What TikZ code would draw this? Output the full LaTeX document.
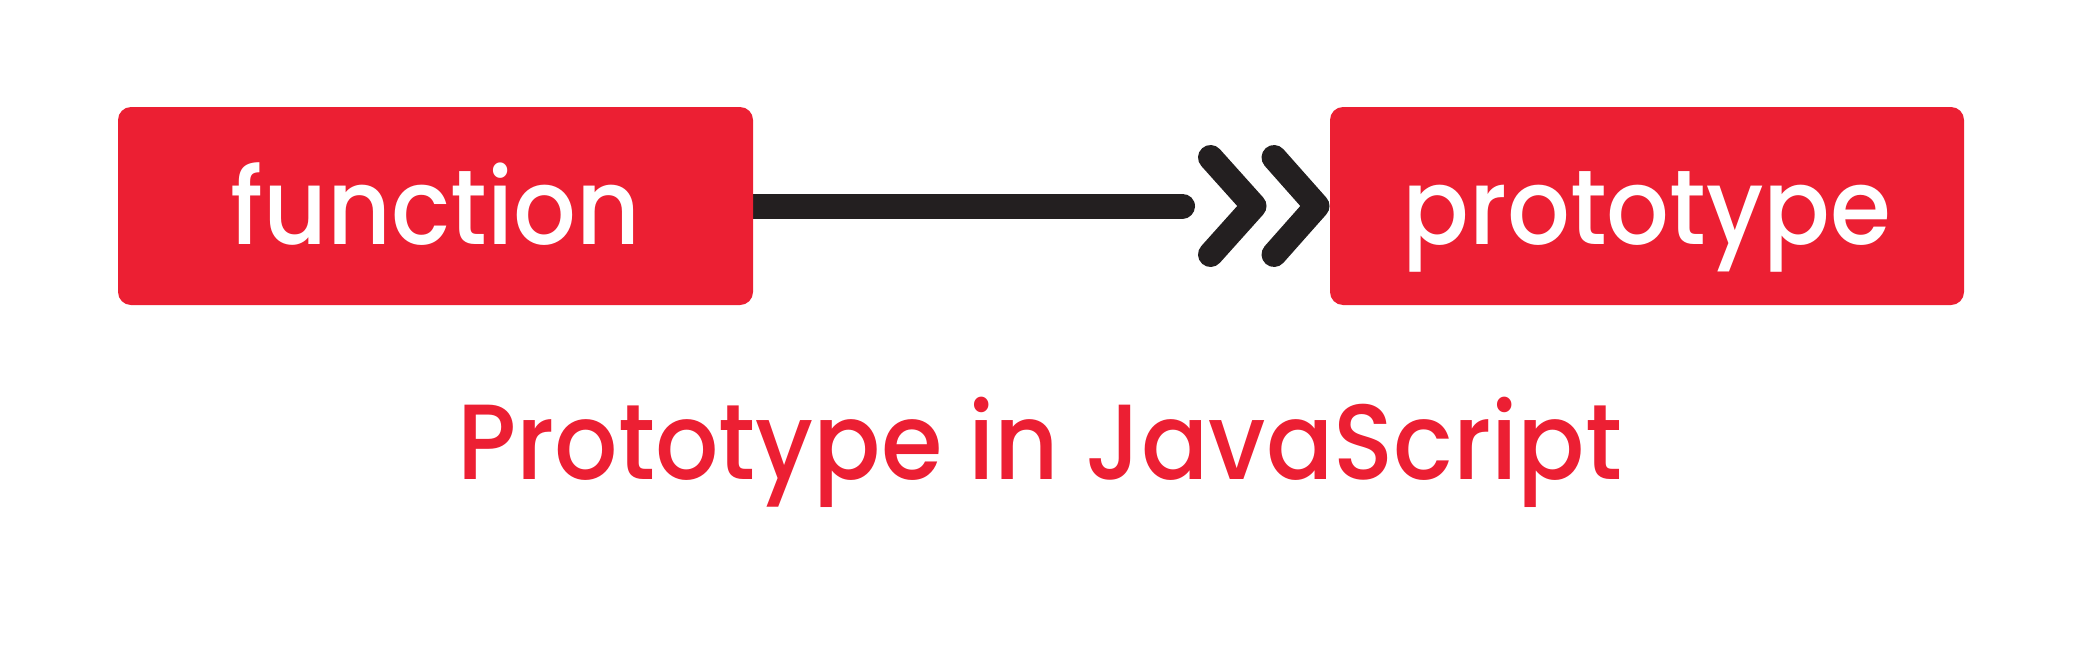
\documentclass[tikz,border=0pt]{standalone}
\usepackage{fontspec}
\setmainfont{Poppins Medium}
\newfontfamily\boxfont{Poppins Medium}[FakeStretch=0.93]
\definecolor{jsred}{HTML}{EC1F33}
\definecolor{jsdark}{HTML}{231F20}
\pgfdeclarelayer{bg}
\pgfsetlayers{bg,main}
\begin{document}
\begin{tikzpicture}[x=1pt,y=-1pt,
  box/.style={fill=jsred, rounded corners=13pt, minimum width=635pt, minimum height=198pt,
    inner sep=0pt, text=white, font=\boxfont\fontsize{106}{120}\selectfont, text height=76pt, text depth=0pt},
  conn/.style={draw=jsdark, line width=25pt, line cap=round},
  chev/.style={draw=jsdark, line width=25pt, line cap=round, line join=round}]
\useasboundingbox (0,0) rectangle (2084,648);
\node[box] (fn) at (435.5,206) {function};
\node[box, minimum width=634pt] (pr) at (1647,206) {prototype};
\coordinate (lend) at (1182.5,206);
\begin{pgfonlayer}{bg}
\draw[conn] (fn.center) -- (lend);
\end{pgfonlayer}
\coordinate (c1a) at (1210.5,157.5);
\coordinate (c1b) at (1254,206);
\coordinate (c1c) at (1210.5,254.5);
\coordinate (c2a) at (1274,157.5);
\coordinate (c2b) at (1317,206);
\coordinate (c2c) at (1274,254.5);
\draw[chev] (c1a) -- (c1b) -- (c1c);
\draw[chev] (c2a) -- (c2b) -- (c2c);
\node[anchor=base, text=jsred, font=\boxfont\fontsize{107}{120}\selectfont, inner sep=0pt] (title) at (1040,479) {Prototype in JavaScript};
\end{tikzpicture}
\end{document}
